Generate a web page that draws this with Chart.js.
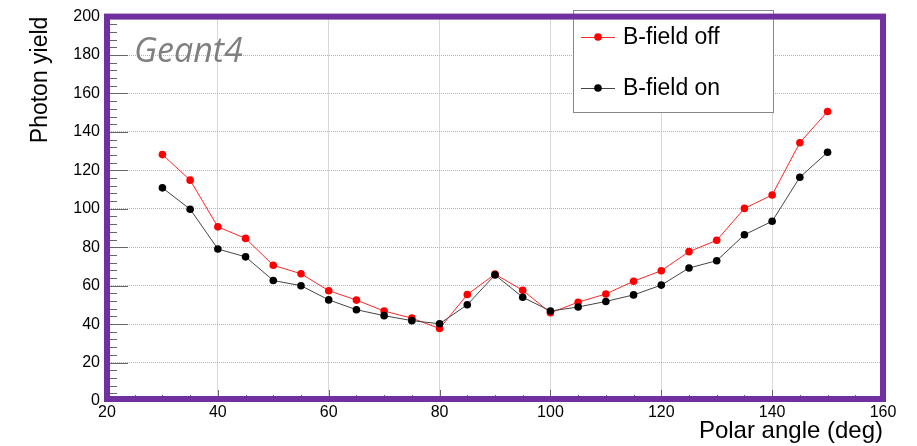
<!DOCTYPE html>
<html>
<head>
<meta charset="utf-8">
<script src="https://cdn.jsdelivr.net/npm/chart.js@4/dist/chart.umd.min.js"></script>
<style>
html,body{margin:0;padding:0;background:#fff;}
#wrap{width:917px;height:446px;}
</style>
</head>
<body>
<div id="wrap"><canvas id="c" width="917" height="446"></canvas></div>
<script>
const angles = [30,35,40,45,50,55,60,65,70,75,80,85,90,95,100,105,110,115,120,125,130,135,140,145,150];
const bFieldOff = [128.2,114.9,90.6,84.6,70.6,66.2,57.4,52.5,46.8,43.1,37.7,55.4,66.0,57.6,45.9,51.4,55.7,62.3,67.8,77.7,83.6,100.2,107.2,134.4,150.6];
const bFieldOn  = [110.9,99.8,79.1,75.0,62.7,60.0,52.6,47.5,44.4,41.8,40.2,50.1,65.6,54.0,46.8,48.9,51.8,55.2,60.3,69.2,73.0,86.5,93.5,116.4,129.4];
const seriesLabels = ['B-field off','B-field on'];
const xTitle = 'Polar angle (deg)';
const yTitle = 'Photon yield';
const watermark = 'Geant4';

const FONT = '"Liberation Sans", Arial, Helvetica, sans-serif';

const toPts = (xs, ys) => xs.map((x, i) => ({x: x, y: ys[i]}));

const frameTicks = {
  id: 'frameTicks',
  beforeDatasetsDraw(chart) {
    const {ctx, chartArea: a, scales: {x, y}} = chart;
    ctx.save();
    ctx.strokeStyle = '#666';
    ctx.lineWidth = 1;
    ctx.beginPath();
    for (let v = 0; v <= 200; v += 4) {
      const py = Math.round(y.getPixelForValue(v)) + 0.5;
      const len = (v % 20 === 0) ? 21 : 10;
      ctx.moveTo(a.left, py); ctx.lineTo(a.left + len, py);
    }
    for (let v = 20; v <= 160; v += 5) {
      const px = Math.round(x.getPixelForValue(v)) + 0.5;
      const len = (v % 20 === 0) ? 11 : 6;
      ctx.moveTo(px, a.bottom); ctx.lineTo(px, a.bottom - len);
    }
    ctx.stroke();
    ctx.restore();
  },
  afterDraw(chart) {
    const {ctx, chartArea: a} = chart;
    ctx.save();
    // watermark
    ctx.fillStyle = '#808080';
    ctx.font = 'italic 34px "Open Sans", sans-serif';
    ctx.textBaseline = 'alphabetic';
    ctx.textAlign = 'left';
    ctx.fillText(watermark, 134, 62);
    // legend
    const lx = 573, ly = 10, lw = 200, lh = 102;
    ctx.fillStyle = '#fff';
    ctx.fillRect(lx, ly, lw, lh);
    ctx.strokeStyle = '#888';
    ctx.lineWidth = 1;
    ctx.strokeRect(lx + 0.5, ly + 0.5, lw, lh);
    const ds = chart.data.datasets;
    const rows = [37, 88];
    ds.forEach((d, i) => {
      const yy = rows[i];
      ctx.strokeStyle = d.borderColor;
      ctx.lineWidth = 1;
      ctx.beginPath(); ctx.moveTo(581, yy + 0.5); ctx.lineTo(615, yy + 0.5); ctx.stroke();
      ctx.fillStyle = d.pointBackgroundColor;
      ctx.beginPath(); ctx.arc(598, yy, 3.8, 0, Math.PI * 2); ctx.fill();
      ctx.fillStyle = '#000';
      ctx.font = '23px ' + FONT;
      ctx.textBaseline = 'middle';
      ctx.fillText(d.label, 623, yy + 1);
    });
    // frame
    ctx.strokeStyle = '#7030a0';
    ctx.lineWidth = 6;
    ctx.strokeRect(a.left, a.top, a.right - a.left, a.bottom - a.top - 2);
    ctx.restore();
  }
};

new Chart(document.getElementById('c'), {
  type: 'line',
  data: {
    datasets: [
      {
        label: seriesLabels[0],
        data: toPts(angles, bFieldOff),
        borderColor: 'rgba(255,0,0,0.85)',
        borderWidth: 1,
        pointBackgroundColor: '#ff0000',
        pointBorderColor: '#ff0000',
        pointRadius: 3.8,
        pointBorderWidth: 0,
        tension: 0,
        order: 1
      },
      {
        label: seriesLabels[1],
        data: toPts(angles, bFieldOn),
        borderColor: '#444',
        borderWidth: 1,
        pointBackgroundColor: '#000000',
        pointBorderColor: '#000000',
        pointRadius: 3.8,
        pointBorderWidth: 0,
        tension: 0,
        order: 0
      }
    ]
  },
  options: {
    responsive: false,
    animation: false,
    devicePixelRatio: 1,
    layout: { padding: { top: 12, right: 34, left: 0, bottom: 0 } },
    plugins: { legend: { display: false }, tooltip: { enabled: false } },
    scales: {
      x: {
        type: 'linear',
        min: 20, max: 160,
        afterFit(s) { s.height = 45; },
        ticks: { stepSize: 20, color: '#000', font: { family: FONT, size: 16 }, padding: 2, maxRotation: 0 },
        grid: { color: '#b4b4b4', lineWidth: 1, drawTicks: false },
        border: { display: false, dash: [1, 1] },
        title: { display: true, text: xTitle, align: 'end', color: '#000', font: { family: FONT, size: 24, lineHeight: 1.1 }, padding: { top: 0, bottom: 1 } }
      },
      y: {
        min: 0, max: 200,
        afterFit(s) { s.width = 107; },
        ticks: { stepSize: 20, color: '#000', font: { family: FONT, size: 16 }, padding: 7 },
        grid: { color: '#b4b4b4', lineWidth: 1, drawTicks: false },
        border: { display: false, dash: [1, 1] },
        title: { display: true, text: yTitle, align: 'end', color: '#000', font: { family: FONT, size: 23, lineHeight: 1.2 }, padding: { top: 27, bottom: 0 } }
      }
    }
  },
  plugins: [frameTicks]
});
</script>
</body>
</html>
